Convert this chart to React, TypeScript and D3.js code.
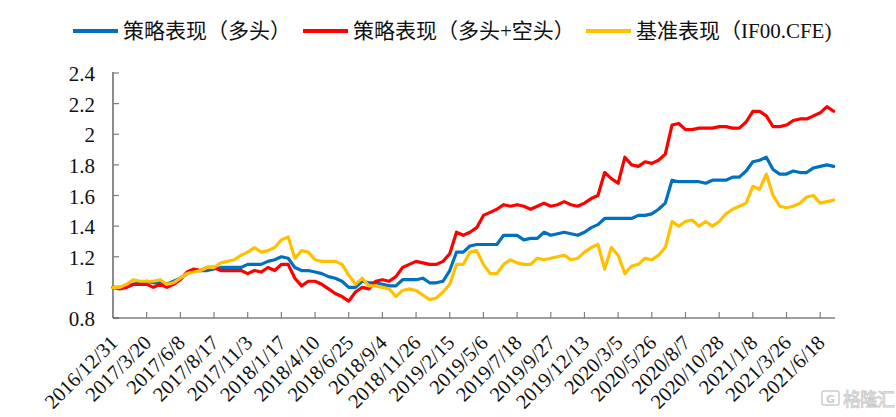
import React from "react";
import * as d3 from "d3";

// ---- data ----
const xTickLabels = [
  "2016/12/31", "2017/3/20", "2017/6/8", "2017/8/17", "2017/11/3", "2018/1/17",
  "2018/4/10", "2018/6/25", "2018/9/4", "2018/11/26", "2019/2/15", "2019/5/6",
  "2019/7/18", "2019/9/27", "2019/12/13", "2020/3/5", "2020/5/26", "2020/8/7",
  "2020/10/28", "2021/1/8", "2021/3/26", "2021/6/18",
];
const totalDays = 1072; // trading days on the category axis
const labelEvery = 50; // trading days between labels
const sampleStep = 10; // trading days between stored samples

const yTicks = [0.8, 1.0, 1.2, 1.4, 1.6, 1.8, 2.0, 2.2, 2.4];

const longOnly = [
  1.00, 1.00, 1.00, 1.02, 1.03, 1.04, 1.03, 1.03, 1.02, 1.04,
  1.06, 1.09, 1.11, 1.11, 1.11, 1.12, 1.13, 1.13, 1.13, 1.13,
  1.15, 1.15, 1.15, 1.17, 1.18, 1.20, 1.19, 1.13, 1.11, 1.11,
  1.10, 1.09, 1.07, 1.06, 1.04, 1.00, 1.00, 1.04, 1.03, 1.03,
  1.02, 1.01, 1.01, 1.05, 1.05, 1.05, 1.06, 1.03, 1.03, 1.04,
  1.11, 1.23, 1.23, 1.27, 1.28, 1.28, 1.28, 1.28, 1.34, 1.34,
  1.34, 1.31, 1.32, 1.32, 1.36, 1.34, 1.35, 1.36, 1.35, 1.34,
  1.36, 1.39, 1.41, 1.45, 1.45, 1.45, 1.45, 1.45, 1.47, 1.47,
  1.48, 1.51, 1.55, 1.70, 1.69, 1.69, 1.69, 1.69, 1.68, 1.70,
  1.70, 1.70, 1.72, 1.72, 1.76, 1.82, 1.83, 1.85, 1.77, 1.74,
  1.74, 1.76, 1.75, 1.75, 1.78, 1.79, 1.80, 1.79,
];

const longShort = [
  1.00, 0.99, 1.00, 1.02, 1.02, 1.02, 1.00, 1.02, 1.00, 1.02,
  1.05, 1.10, 1.12, 1.11, 1.13, 1.13, 1.11, 1.11, 1.11, 1.11,
  1.09, 1.11, 1.10, 1.13, 1.11, 1.15, 1.15, 1.06, 1.01, 1.04,
  1.04, 1.02, 0.99, 0.96, 0.94, 0.91, 0.97, 1.00, 0.99, 1.04,
  1.05, 1.04, 1.07, 1.13, 1.15, 1.17, 1.16, 1.15, 1.15, 1.17,
  1.22, 1.36, 1.34, 1.36, 1.39, 1.47, 1.49, 1.51, 1.54, 1.53,
  1.54, 1.53, 1.51, 1.53, 1.55, 1.53, 1.54, 1.56, 1.54, 1.53,
  1.55, 1.58, 1.60, 1.75, 1.71, 1.68, 1.85, 1.80, 1.79, 1.82,
  1.81, 1.83, 1.87, 2.06, 2.07, 2.03, 2.03, 2.04, 2.04, 2.04,
  2.05, 2.05, 2.04, 2.04, 2.08, 2.15, 2.15, 2.12, 2.05, 2.05,
  2.06, 2.09, 2.10, 2.10, 2.12, 2.14, 2.18, 2.15,
];

const benchmark = [
  1.00, 1.00, 1.02, 1.05, 1.04, 1.04, 1.04, 1.05, 1.02, 1.03,
  1.06, 1.09, 1.10, 1.11, 1.13, 1.13, 1.16, 1.17, 1.18, 1.21,
  1.23, 1.26, 1.23, 1.24, 1.26, 1.31, 1.33, 1.19, 1.24, 1.23,
  1.18, 1.17, 1.17, 1.17, 1.15, 1.08, 1.02, 1.06, 1.01, 1.01,
  1.00, 0.99, 0.94, 0.98, 0.99, 0.98, 0.95, 0.92, 0.93, 0.97,
  1.02, 1.15, 1.15, 1.23, 1.24, 1.15, 1.09, 1.09, 1.15, 1.18,
  1.16, 1.15, 1.15, 1.19, 1.18, 1.19, 1.20, 1.21, 1.18, 1.19,
  1.23, 1.26, 1.28, 1.12, 1.26, 1.21, 1.09, 1.14, 1.15, 1.19,
  1.18, 1.21, 1.26, 1.43, 1.40, 1.43, 1.44, 1.40, 1.43, 1.40,
  1.43, 1.48, 1.51, 1.53, 1.55, 1.66, 1.64, 1.74, 1.60, 1.53,
  1.52, 1.53, 1.55, 1.59, 1.60, 1.55, 1.56, 1.57,
];

const seriesNames = ["策略表现（多头）", "策略表现（多头+空头）", "基准表现（IF00.CFE)"];
const seriesColors = ["#0070C0", "#FF0000", "#FFC000"];

// ---- layout ----
const W = 896;
const H = 417;
const plot = { left: 113, right: 835, top: 73, bottom: 318 };
const FONT = "'Liberation Serif', 'Times New Roman', 'Noto Sans CJK SC', serif";

export default function App() {
  const x = d3.scaleLinear().domain([0, totalDays]).range([plot.left, plot.right]);
  const y = d3.scaleLinear().domain([0.8, 2.4]).range([plot.bottom, plot.top]);
  const line = d3
    .line<number>()
    .x((_, i) => x(i * sampleStep))
    .y((v) => y(v))
    .curve(d3.curveLinear);

  const series = [longOnly, longShort, benchmark];

  const legendItems = [
    { lineX: 73, textX: 123 },
    { lineX: 303, textX: 353 },
    { lineX: 586, textX: 636 },
  ];
  const legendY = 31;

  return (
    <svg
      width={W}
      height={H}
      style={{ position: "absolute", left: 0, top: 0, background: "#fff" }}
      fontFamily={FONT}
    >
      <rect x={0} y={0} width={W} height={H} fill="#fff" />

      {/* legend */}
      {seriesNames.map((name, i) => (
        <g key={name}>
          <line
            x1={legendItems[i].lineX}
            x2={legendItems[i].lineX + 45}
            y1={legendY}
            y2={legendY}
            stroke={seriesColors[i]}
            strokeWidth={4}
          />
          <text
            x={legendItems[i].textX}
            y={legendY}
            dominantBaseline="central"
            fontSize={21}
            fill="#111"
          >
            {name}
          </text>
        </g>
      ))}

      {/* y axis */}
      <line x1={plot.left} x2={plot.left} y1={plot.top - 1} y2={plot.bottom} stroke="#404040" strokeWidth={1.2} />
      {yTicks.map((t) => (
        <g key={t}>
          <line x1={plot.left} x2={plot.left + 6} y1={y(t)} y2={y(t)} stroke="#7f7f7f" strokeWidth={1.2} />
          <text
            x={95}
            y={y(t) + 1}
            textAnchor="end"
            dominantBaseline="central"
            fontSize={21}
            fill="#111"
          >
            {String(+t.toFixed(1))}
          </text>
        </g>
      ))}

      {/* x axis */}
      <line x1={plot.left} x2={plot.right} y1={plot.bottom} y2={plot.bottom} stroke="#404040" strokeWidth={1.2} />
      {xTickLabels.map((lab, i) => {
        const tx = x(i * labelEvery);
        return (
          <g key={lab}>
            {i > 0 && (
              <line x1={tx} x2={tx} y1={plot.bottom} y2={plot.bottom - 6} stroke="#7f7f7f" strokeWidth={1.2} />
            )}
            <text
              transform={`translate(${tx + 1},${plot.bottom + 21}) rotate(-45)`}
              textAnchor="end"
              dominantBaseline="central"
              fontSize={20.5}
              fill="#111"
            >
              {lab}
            </text>
          </g>
        );
      })}

      {/* series */}
      {series.map((s, i) => (
        <path
          key={i}
          d={line(s) || ""}
          fill="none"
          stroke={seriesColors[i]}
          strokeWidth={3.2}
          strokeLinejoin="round"
          strokeLinecap="round"
        />
      ))}

      {/* watermark */}
      <g opacity={0.9}>
        <rect x={822} y={391} width={17} height={14} rx={2} fill="none" stroke="#c8c8c8" strokeWidth={1.5} />
        <text x={830.5} y={399} textAnchor="middle" dominantBaseline="central" fontSize={11} fontFamily="'DejaVu Sans', sans-serif" fill="#c8c8c8" fontWeight="bold">
          G
        </text>
        <text x={843} y={398} dominantBaseline="central" fontSize={18} textLength={52} fontFamily="'Noto Sans CJK SC', sans-serif" fill="#f4f4f4" stroke="#c4c4c4" strokeWidth={0.8}>
          格隆汇
        </text>
      </g>
    </svg>
  );
}
